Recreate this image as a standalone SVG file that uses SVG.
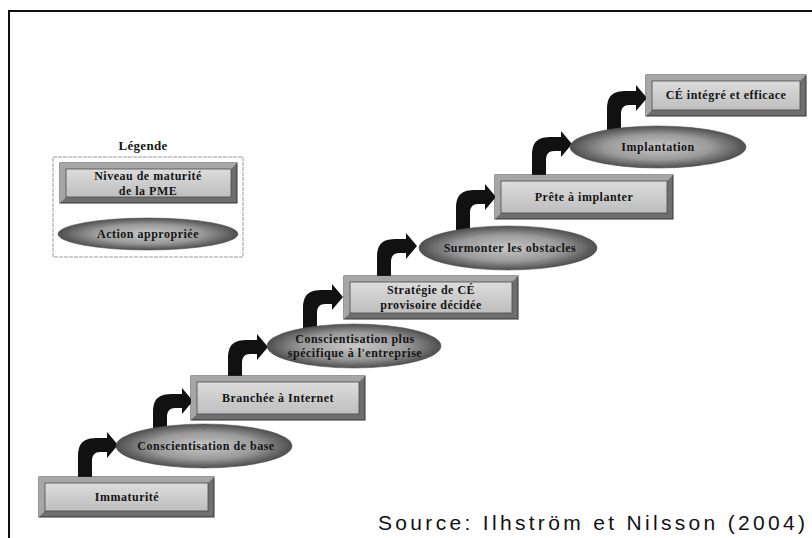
<svg xmlns="http://www.w3.org/2000/svg" width="812" height="538" viewBox="0 0 812 538">
  <defs>
    <linearGradient id="face" x1="0" y1="0" x2="0" y2="1">
      <stop offset="0" stop-color="#dcdcdc"/>
      <stop offset="1" stop-color="#bebebe"/>
    </linearGradient>
    <radialGradient id="oval" cx="0.5" cy="0.5" r="0.5">
      <stop offset="0" stop-color="#c8c8c8"/>
      <stop offset="0.6" stop-color="#9a9a9a"/>
      <stop offset="1" stop-color="#4e4e4e"/>
    </radialGradient>
    <!-- bent step arrow: stem rises, turns right, ends in a head; origin = stem left edge / head axis -->
    <path id="step" d="M0,34 L0,12 C0,-3 6,-7 20,-7 L29,-7 L29,-13 L40,0 L29,13 L29,7 L22,7 C17,7 14,10 14,16 L14,34 Z"/>
  </defs>
  <style>
    .frame { fill: none; stroke: #111; stroke-width: 2; }
    .rim { fill: #6f6f6f; stroke: #333; stroke-width: 1; }
    .lit { fill: #a6a6a6; }
    .face { fill: url(#face); stroke: #4a4a4a; stroke-width: 0.8; }
    .oval { fill: url(#oval); stroke: #555; stroke-width: 0.6; }
    .lbl { font-family: "Liberation Serif", "Times New Roman", serif; font-weight: bold; font-size: 12px; fill: #151515; text-anchor: middle; letter-spacing: 0.5px; }
    .title { font-size: 13px; letter-spacing: 0.3px; }
    .arrow { fill: #111; }
    .legbox { fill: none; stroke: #9a9a9a; stroke-width: 1; stroke-dasharray: 4 1; }
    .src { font-family: "Liberation Sans", Arial, sans-serif; font-size: 21px; fill: #111; }
  </style>

  <rect width="812" height="538" fill="#fff"/>
  <path class="frame" d="M9,538 L9,11 L812,11"/>

  <!-- connectors -->
  <g id="connectors" class="arrow">
    <use href="#step" transform="translate(78,445)"/>
    <use href="#step" transform="translate(153,401)"/>
    <use href="#step" transform="translate(228,347)"/>
    <use href="#step" transform="translate(303,297)"/>
    <use href="#step" transform="translate(377,246)"/>
    <use href="#step" transform="translate(456,197)"/>
    <use href="#step" transform="translate(532,144)"/>
    <use href="#step" transform="translate(607,98)"/>
  </g>

  <!-- legend -->
  <g id="legend">
    <text class="lbl title" x="143" y="150">Légende</text>
    <rect class="legbox" x="53" y="157" width="190" height="100"/>
    <rect class="rim" x="60" y="163" width="177" height="40"/>
    <polygon class="lit" points="60,163 237,163 231,169 66,169 66,197 60,203"/>
    <rect class="face" x="66" y="169" width="165" height="28"/>
    <text class="lbl" x="148" y="180">Niveau de maturité</text>
    <text class="lbl" x="148" y="195">de la PME</text>
    <ellipse class="oval" cx="148" cy="234" rx="90" ry="16"/>
    <text class="lbl" x="148" y="238">Action appropriée</text>
  </g>

  <!-- maturity levels -->
  <g id="immaturite">
    <rect class="rim" x="39" y="477" width="175" height="40"/>
    <polygon class="lit" points="39,477 214,477 208,483 45,483 45,511 39,517"/>
    <rect class="face" x="45" y="483" width="163" height="28"/>
    <text class="lbl" x="127" y="501">Immaturité</text>
  </g>
  <g id="branchee">
    <rect class="rim" x="191" y="376" width="174" height="44"/>
    <polygon class="lit" points="191,376 365,376 359,382 197,382 197,414 191,420"/>
    <rect class="face" x="197" y="382" width="162" height="32"/>
    <text class="lbl" x="278" y="402">Branchée à Internet</text>
  </g>
  <g id="strategie">
    <rect class="rim" x="344" y="276" width="174" height="43"/>
    <polygon class="lit" points="344,276 518,276 512,282 350,282 350,313 344,319"/>
    <rect class="face" x="350" y="282" width="162" height="31"/>
    <text class="lbl" x="431" y="294">Stratégie de CÉ</text>
    <text class="lbl" x="431" y="309">provisoire décidée</text>
  </g>
  <g id="prete">
    <rect class="rim" x="495" y="175" width="178" height="44"/>
    <polygon class="lit" points="495,175 673,175 667,181 501,181 501,213 495,219"/>
    <rect class="face" x="501" y="181" width="166" height="32"/>
    <text class="lbl" x="584" y="201">Prête à implanter</text>
  </g>
  <g id="integre">
    <rect class="rim" x="646" y="75" width="160" height="41"/>
    <polygon class="lit" points="646,75 806,75 800,81 652,81 652,110 646,116"/>
    <rect class="face" x="652" y="81" width="148" height="29"/>
    <text class="lbl" x="726" y="99">CÉ intégré et efficace</text>
  </g>

  <!-- actions -->
  <g id="conscientisation-base">
    <ellipse class="oval" cx="204" cy="446" rx="88" ry="22"/>
    <text class="lbl" x="206" y="450">Conscientisation de base</text>
  </g>
  <g id="conscientisation-specifique">
    <ellipse class="oval" cx="354" cy="346" rx="87" ry="22"/>
    <text class="lbl" x="355" y="343">Conscientisation plus</text>
    <text class="lbl" x="355" y="357">spécifique à l'entreprise</text>
  </g>
  <g id="surmonter">
    <ellipse class="oval" cx="508" cy="248" rx="89" ry="22"/>
    <text class="lbl" x="510" y="252">Surmonter les obstacles</text>
  </g>
  <g id="implantation">
    <ellipse class="oval" cx="658" cy="147" rx="88" ry="21"/>
    <text class="lbl" x="658" y="151">Implantation</text>
  </g>

  <text class="src" x="378" y="530" textLength="427" lengthAdjust="spacing">Source: Ilhström et Nilsson (2004)</text>
</svg>
